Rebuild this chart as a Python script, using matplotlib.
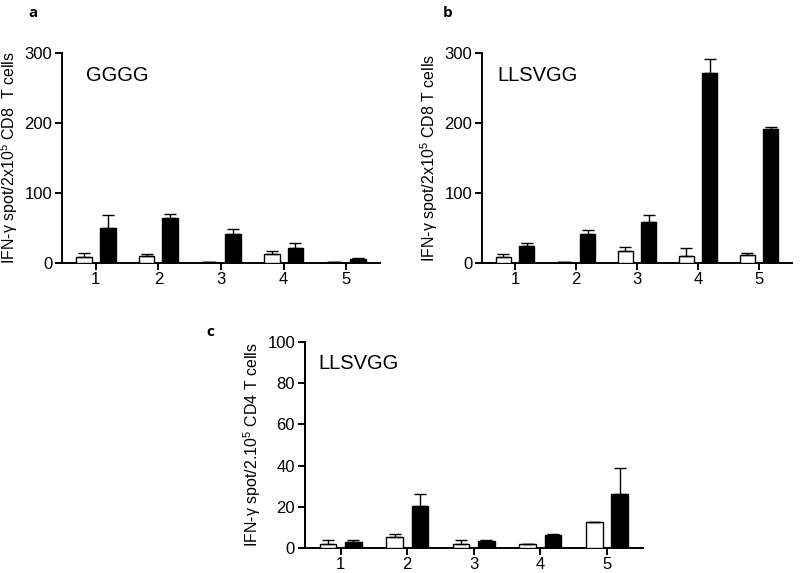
import matplotlib
matplotlib.use("Agg")
import matplotlib.pyplot as plt
import numpy as np

plt.rcParams['font.family'] = ['Liberation Sans', 'DejaVu Sans']
plt.rcParams['mathtext.default'] = 'regular'

categories = ['1', '2', '3', '4', '5']

# Panel a (GGGG, CD8)
a_white = [9, 10, 1, 13, 1]
a_white_err = [6, 3, 0, 4, 0]
a_black = [50, 64, 41, 22, 6]
a_black_err = [18, 6, 7, 7, 1]

# Panel b (LLSVGG, CD8)
b_white = [9, 1, 17, 10, 11]
b_white_err = [4, 0, 6, 11, 4]
b_black = [25, 42, 59, 272, 192]
b_black_err = [3, 5, 10, 19, 3]

# Panel c (LLSVGG, CD4)
c_white = [2, 5.3, 2, 2, 12.6]
c_white_err = [2, 1.7, 2, 0, 0]
c_black = [3, 20.4, 3.4, 6.3, 26.2]
c_black_err = [1, 5.6, 0.6, 0.7, 12.6]

fig = plt.figure(figsize=(8, 5.73), dpi=100)

def panel(rect, white, werr, black, berr, ylim, yticks, ylabel, label, label_x, letter, letter_xy):
    ax = fig.add_axes(rect)
    x = np.arange(1, len(categories) + 1)
    w = 0.25
    off = 0.19
    zeros = np.zeros(len(x))
    ax.bar(x - off, white, w, color='white', edgecolor='black', linewidth=1.0,
           yerr=[zeros, werr], error_kw=dict(ecolor='black', elinewidth=1.0, capsize=4, capthick=1.0), zorder=3)
    ax.bar(x + off, black, w, color='black', edgecolor='black', linewidth=1.0,
           yerr=[zeros, berr], error_kw=dict(ecolor='black', elinewidth=1.0, capsize=4, capthick=1.0), zorder=2)
    ax.set_xlim(0.46, 5.54)
    ax.set_ylim(ylim)
    ax.set_yticks(yticks)
    ax.set_xticks(x)
    ax.set_xticklabels(categories)
    for s in ['top', 'right']:
        ax.spines[s].set_visible(False)
    for s in ['left', 'bottom']:
        ax.spines[s].set_linewidth(1.4)
    ax.tick_params(axis='both', direction='out', length=5, width=1.4, labelsize=12)
    ax.tick_params(axis='y', pad=2)
    ax.tick_params(axis='x', pad=1.5)
    ax.set_ylabel(ylabel, fontsize=11.5, labelpad=3)
    ax.text(label_x, 0.895, label, transform=ax.transAxes, fontsize=14.5, va='center', ha='left')
    fig.text(letter_xy[0], letter_xy[1], letter, fontsize=11, fontweight='bold',
             family=['Open Sans', 'DejaVu Sans'], ha='left', va='center')
    return ax

panel([0.0775, 0.541, 0.3975, 0.3665], a_white, a_white_err, a_black, a_black_err,
      (0, 300), [0, 100, 200, 300], 'IFN-γ spot/2x10$^5$ CD8  T cells', 'GGGG', 0.075, 'a', (28/800, 1 - 13/573))
panel([0.6025, 0.541, 0.3875, 0.3665], b_white, b_white_err, b_black, b_black_err,
      (0, 300), [0, 100, 200, 300], 'IFN-γ spot/2x10$^5$ CD8 T cells', 'LLSVGG', 0.048, 'b', (443/800, 1 - 13/573))
panel([0.381, 0.0436, 0.4225, 0.3595], c_white, c_white_err, c_black, c_black_err,
      (0, 100), [0, 20, 40, 60, 80, 100], 'IFN-γ spot/2.10$^5$ CD4 T cells', 'LLSVGG', 0.041, 'c', (206/800, 1 - 332/573))

fig.savefig('out.png', dpi=100)
